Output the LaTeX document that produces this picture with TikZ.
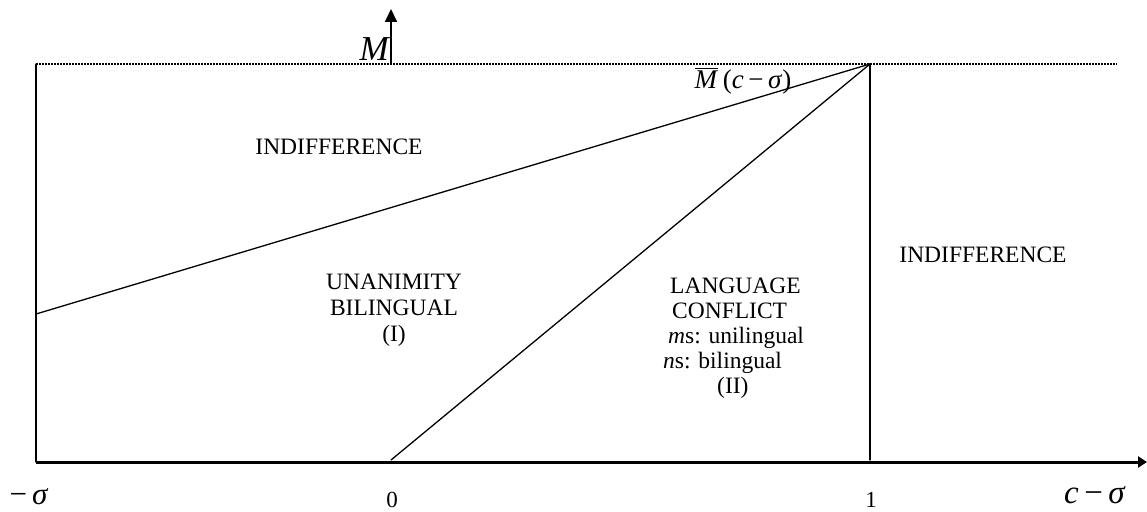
\documentclass[tikz,border=0pt]{standalone}
\usepackage{fontspec}
\setmainfont{Liberation Serif}
\usepackage{tikz}
\usetikzlibrary{arrows.meta, positioning}
\newcommand{\barM}{{\setbox0\hbox{\textit{M}}\rlap{\rule[\dimexpr\ht0+2pt\relax]{\wd0}{1.3pt}}\box0}}
\tikzset{
	region/.style   ={font=\fontsize{23.5}{25}\selectfont, inner sep=0pt},
	regline/.style  ={region, anchor=base west},
	border/.style   ={line width=1.3pt, line cap=round},
	ceiling/.style  ={line width=2pt, dash pattern=on 1.5pt off 1.5pt},
	axisx/.style    ={line width=3pt, -{Triangle[length=9pt, width=11pt]}},
	axisy/.style    ={line width=2pt, -{Triangle[length=13pt, width=12pt]}},
	ticklbl/.style  ={font=\fontsize{23}{25}\selectfont, inner sep=0pt},
	biglbl/.style   ={font=\fontsize{31}{33}\selectfont, inner sep=0pt},
}

\begin{document}
\begin{tikzpicture}[x=1pt, y=-1pt]
	\useasboundingbox (0,0) rectangle (1147,511);
	% corner points
	\coordinate (lowL) at (36,462);
	\coordinate (zero) at (391,460);
	\coordinate (one) at (870,460);
	\coordinate (topL) at (36,64);
	\coordinate (topR) at (870,64);
	\coordinate (dotEnd) at (1117,64);
	\coordinate (midL) at (36,314);
	\coordinate (axEnd) at (1147,462);
	\coordinate (yFoot) at (391,64);
	\coordinate (yTip) at (391,9);
	% frame and boundaries
	\draw[ceiling] (topL) -- (dotEnd);
	\draw[border] (topL) -- (lowL);
	\draw[border] (topR) -- (one);
	\draw[border] (midL) -- (topR);
	\draw[border] (zero) -- (topR);
	\draw[axisx] (lowL) -- (axEnd);
	\draw[axisy] (yFoot) -- (yTip);
	% axis labels
	\node[biglbl, font=\fontsize{35}{36}\selectfont] (labM) at (375,49) {\textit{M}};
	\node[font=\fontsize{27}{28}\selectfont, inner sep=0pt] (labMbar) at (743,81) {\barM\,(\textit{c}\,−\,\textit{σ})};
	\node[biglbl] (labMs) at (29,497) {−\,\textit{σ}};
	\node[ticklbl] (lab0) at (392,500) {0};
	\node[ticklbl] (lab1) at (871,500) {1};
	\node[biglbl, font=\fontsize{33}{35}\selectfont] (labC) at (1095,495) {\textit{c}\,−\,\textit{σ}};
	% regions
	\node[region] (indL) at (339,147) {INDIFFERENCE};
	\node[region] (indR) at (983,255) {INDIFFERENCE};
	\node[region, align=center, font=\fontsize{23.5}{26}\selectfont] (unan) at (394,310) {UNANIMITY\\BILINGUAL\\(I)};
	\node[regline] (lang1) at (670,293) {LANGUAGE};
	\node[regline] (lang2) at (672,318) {CONFLICT};
	\node[regline] (lang3) at (668,343) {\textit{m}s: unilingual};
	\node[regline] (lang4) at (663,368) {\textit{n}s: bilingual};
	\node[regline] (lang5) at (717,393) {(II)};
\end{tikzpicture}
\end{document}
